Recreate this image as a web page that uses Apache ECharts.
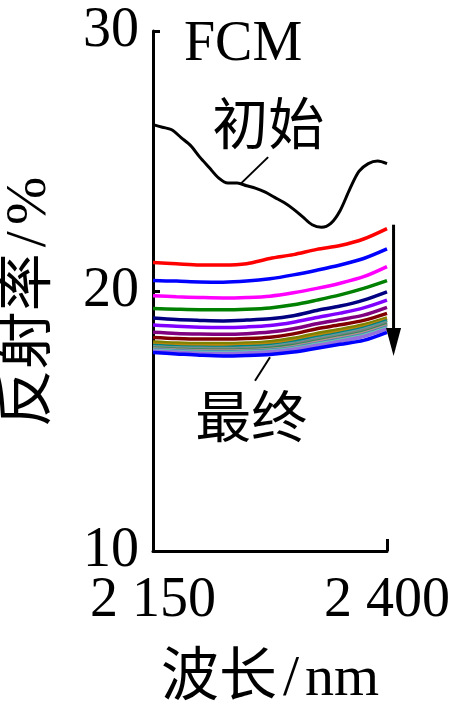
<!DOCTYPE html>
<html>
<head>
<meta charset="utf-8">
<script src="https://cdn.jsdelivr.net/npm/echarts@6/dist/echarts.min.js"></script>
<style>
html, body { margin: 0; padding: 0; background: #fff; }
#main { width: 468px; height: 717px; }
</style>
</head>
<body>
<div id="main"></div>
<script>
// 波长 (nm)
var waveFine = [2150, 2160, 2170, 2180, 2190, 2200, 2210, 2220, 2230, 2240, 2250, 2260, 2270,
  2280, 2290, 2300, 2310, 2320, 2330, 2340, 2350, 2360, 2370, 2380, 2390, 2400];
var waveCoarse = [2150, 2175, 2200, 2225, 2250, 2275, 2300, 2325, 2350, 2375, 2400];

// 初始 curve
var initial = [26.4, 26.3, 26.2, 25.9, 25.6, 25.15, 24.75, 24.35, 24.15, 24.15, 24.05, 23.95, 23.8,
  23.6, 23.4, 23.15, 22.85, 22.55, 22.45, 22.6, 23.1, 23.9, 24.6, 24.9, 25.0, 24.9];

// successive curves, top to bottom (最终 = last)
var c1 = [21.1, 21.05, 21.0, 21.0, 21.05, 21.25, 21.4, 21.6, 21.75, 22.0, 22.4];
var c2 = [20.4, 20.38, 20.35, 20.34, 20.38, 20.47, 20.62, 20.8, 21.0, 21.25, 21.62];
var c3 = [19.82, 19.78, 19.75, 19.73, 19.75, 19.8, 19.93, 20.1, 20.3, 20.55, 20.94];
var c4 = [19.33, 19.3, 19.28, 19.28, 19.3, 19.35, 19.47, 19.65, 19.85, 20.1, 20.4];
var c5 = [18.96, 18.9, 18.87, 18.85, 18.88, 18.93, 19.05, 19.25, 19.42, 19.65, 19.97];
var c6 = [18.69, 18.64, 18.61, 18.6, 18.62, 18.67, 18.8, 18.98, 19.15, 19.35, 19.65];
var c7 = [18.41, 18.37, 18.35, 18.34, 18.36, 18.42, 18.55, 18.74, 18.9, 19.07, 19.37];
var c8 = [18.21, 18.17, 18.15, 18.15, 18.17, 18.22, 18.35, 18.55, 18.7, 18.87, 19.14];
var c9 = [18.04, 18.0, 17.98, 17.98, 18.0, 18.05, 18.18, 18.37, 18.52, 18.7, 18.96];
var c10 = [17.95, 17.91, 17.89, 17.89, 17.91, 17.96, 18.08, 18.27, 18.43, 18.62, 18.9];
var c11 = [17.9, 17.86, 17.84, 17.83, 17.86, 17.9, 18.03, 18.21, 18.38, 18.57, 18.86];
var c12 = [17.86, 17.82, 17.8, 17.79, 17.81, 17.86, 17.98, 18.16, 18.33, 18.52, 18.8];
var c13 = [17.83, 17.79, 17.76, 17.76, 17.78, 17.82, 17.94, 18.12, 18.28, 18.47, 18.76];
var c14 = [17.8, 17.76, 17.73, 17.72, 17.74, 17.79, 17.9, 18.07, 18.24, 18.42, 18.72];
var c15 = [17.77, 17.73, 17.7, 17.69, 17.71, 17.75, 17.86, 18.03, 18.2, 18.38, 18.67];
var c16 = [17.74, 17.7, 17.67, 17.66, 17.68, 17.72, 17.82, 17.98, 18.15, 18.33, 18.62];
var c17 = [17.72, 17.67, 17.64, 17.63, 17.65, 17.69, 17.79, 17.95, 18.11, 18.29, 18.58];
var c18 = [17.69, 17.65, 17.61, 17.6, 17.62, 17.66, 17.76, 17.91, 18.07, 18.25, 18.54];
var finalCurve = [17.63, 17.58, 17.53, 17.5, 17.52, 17.56, 17.65, 17.8, 17.95, 18.1, 18.41];

var curves = [c1, c2, c3, c4, c5, c6, c7, c8, c9, c10, c11, c12, c13, c14, c15, c16, c17, c18, finalCurve];
var curveColors = ['#ff0000', '#0000ff', '#ff00ff', '#008000', '#000080', '#8000ff', '#800080',
  '#800000', '#808000', '#b8860b', '#008080', '#5f9ea0', '#808080', '#2e8b57', '#bc8f8f',
  '#4682b4', '#66cdaa', '#9370db', '#0000ff'];

var xTicks = [2150, 2400];
var yMin = 10, yMax = 30, yStep = 10;

var FONT = '"Liberation Serif", "Times New Roman", "Noto Sans CJK SC", serif';

function pairs(xs, ys) {
  return xs.map(function (x, i) { return [x, ys[i]]; });
}

var series = [];
curves.forEach(function (ys, i) {
  series.push({
    type: 'line',
    data: pairs(waveCoarse, ys),
    smooth: 0.3,
    showSymbol: false,
    lineStyle: { color: curveColors[i], width: 3.5 },
    z: 2
  });
});
series.push({
  type: 'line',
  data: pairs(waveFine, initial),
  smooth: 0.3,
  showSymbol: false,
  lineStyle: { color: '#000', width: 3 },
  z: 3
});

var nameStyle = {
  fontFamily: FONT, fontSize: 58, color: '#000',
  rich: { s: { fontFamily: FONT, fontSize: 58, color: '#000', padding: [0, 6] } }
};

var myChart = echarts.init(document.getElementById('main'));
myChart.setOption({
  animation: false,
  backgroundColor: '#fff',
  grid: { left: 153, right: 81, top: 31, bottom: 166 },
  xAxis: {
    type: 'value',
    min: xTicks[0],
    max: xTicks[1],
    name: '波长{s|/}nm',
    nameLocation: 'middle',
    nameGap: 100,
    nameTextStyle: nameStyle,
    axisLine: { show: true, lineStyle: { color: '#000', width: 3 } },
    axisTick: { show: true, inside: true, length: 12, customValues: [xTicks[1]], lineStyle: { color: '#000', width: 3 } },
    axisLabel: {
      customValues: xTicks,
      margin: 22,
      fontFamily: FONT,
      fontSize: 56,
      color: '#000',
      formatter: function (v) {
        var s = String(v);
        return s.slice(0, 1) + ' ' + s.slice(1);
      }
    },
    splitLine: { show: false }
  },
  yAxis: {
    type: 'value',
    min: yMin,
    max: yMax,
    interval: yStep,
    name: '反射率{s|/}%',
    nameLocation: 'middle',
    nameGap: 94,
    nameRotate: 90,
    nameTextStyle: Object.assign({}, nameStyle, { padding: [0, 22, 0, 0] }),
    axisLine: { show: true, lineStyle: { color: '#000', width: 3 } },
    axisTick: { show: true, inside: true, length: 7, lineStyle: { color: '#000', width: 3 } },
    axisLabel: { margin: 14, fontFamily: FONT, fontSize: 56, color: '#000' },
    splitLine: { show: false }
  },
  series: series
});

// annotations, anchored in data space
function px(x, y) { return myChart.convertToPixel({ gridIndex: 0 }, [x, y]); }
var aTop = px(2407, 22.55), aTip = px(2407, 17.5);
var l1a = px(2273, 25.15), l1b = px(2243, 24.1);
var l2a = px(2275, 17.45), l2b = px(2259, 16.55);
var tInit = px(2273, 26.23), tFinal = px(2255, 14.96), tFcm = px(2183, 29.45);

function textEl(str, p, align) {
  return {
    type: 'text', x: p[0], y: p[1], z: 10,
    style: { text: str, fill: '#000', font: '56px ' + FONT, textAlign: align || 'center', textVerticalAlign: 'middle' }
  };
}

myChart.setOption({
  graphic: [
    textEl('FCM', tFcm, 'left'),
    textEl('初始', tInit),
    textEl('最终', tFinal),
    { type: 'line', z: 10, shape: { x1: l1a[0], y1: l1a[1], x2: l1b[0], y2: l1b[1] }, style: { stroke: '#000', lineWidth: 2 } },
    { type: 'line', z: 10, shape: { x1: l2a[0], y1: l2a[1], x2: l2b[0], y2: l2b[1] }, style: { stroke: '#000', lineWidth: 2 } },
    { type: 'line', z: 10, shape: { x1: aTop[0], y1: aTop[1], x2: aTip[0], y2: aTip[1] - 20 }, style: { stroke: '#000', lineWidth: 3 } },
    { type: 'polygon', z: 10, shape: { points: [[aTip[0] - 7.5, aTip[1] - 28], [aTip[0] + 7.5, aTip[1] - 28], [aTip[0], aTip[1]]] }, style: { fill: '#000' } }
  ]
});
</script>
</body>
</html>
